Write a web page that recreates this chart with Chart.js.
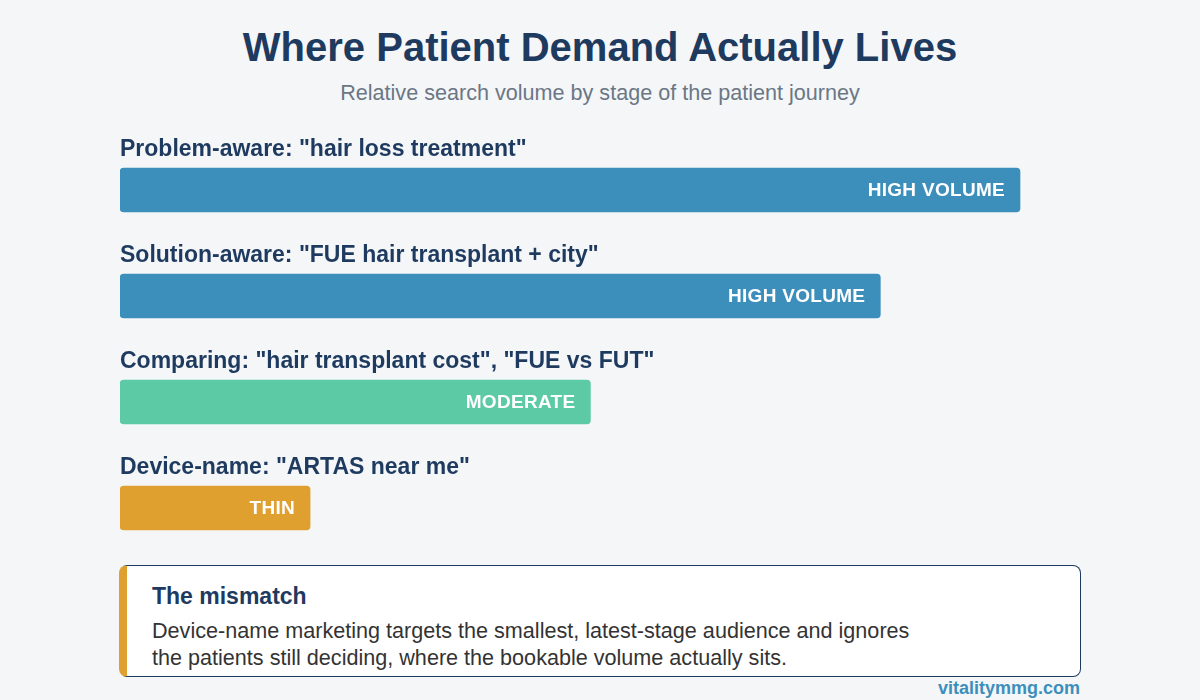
<!DOCTYPE html>
<html>
<head>
<meta charset="utf-8">
<script src="https://cdn.jsdelivr.net/npm/chart.js@4"></script>
<style>
  body { margin: 0; background: #f4f6f8; font-family: "Liberation Sans", Arial, sans-serif; }
  #wrap { position: relative; width: 1200px; height: 700px; }
  h1 { position: absolute; top: 25px; left: 0; width: 1200px; margin: 0; text-align: center; font-size: 40px; color: #1e3a5f; }
  .sub { position: absolute; top: 80px; left: 0; width: 1200px; text-align: center; font-size: 21.6px; color: #6b7785; }
  #chartBox { position: absolute; left: 0; top: 130px; width: 1200px; height: 431px; }
  .note { position: absolute; left: 119px; top: 565px; background: #fff;
          border: 1.5px solid #1e3a5f; border-left: 8px solid #e0a030; border-radius: 8px; box-sizing: border-box; width: 962px; height: 112px; }
  .note h3 { margin: 0; position: absolute; left: 25px; top: 17px; font-size: 23px; color: #1e3a5f; }
  .note p { margin: 0; position: absolute; left: 25px; top: 51px; font-size: 21.6px; line-height: 27px; color: #333; }
  .src { position: absolute; right: 120px; top: 678px; font-size: 18px; font-weight: bold; color: #3d8fbb; }
</style>
</head>
<body>
<div id="wrap">
  <h1>Where Patient Demand Actually Lives</h1>
  <div class="sub">Relative search volume by stage of the patient journey</div>
  <div id="chartBox"><canvas id="c"></canvas></div>
  <div class="note">
    <h3>The mismatch</h3>
    <p>Device-name marketing targets the smallest, latest-stage audience and ignores<br>the patients still deciding, where the bookable volume actually sits.</p>
  </div>
  <div class="src">vitalitymmg.com</div>
</div>
<script>
const stages = ['Problem-aware: "hair loss treatment"', 'Solution-aware: "FUE hair transplant + city"',
  'Comparing: "hair transplant cost", "FUE vs FUT"', 'Device-name: "ARTAS near me"'];
const volumes = [93.75, 79.2, 49, 19.8];
const volumeLabels = ["HIGH VOLUME", "HIGH VOLUME", "MODERATE", "THIN"];
const barColors = ["#3d8fbb", "#3d8fbb", "#5ccaa5", "#e0a030"];

// draws stage label above each bar and the volume tag inside it
const barText = {
  id: "barText",
  afterDatasetsDraw(chart) {
    const ctx = chart.ctx;
    const meta = chart.getDatasetMeta(0);
    meta.data.forEach((bar, i) => {
      ctx.save();
      ctx.font = "bold 23px 'Liberation Sans', Arial";
      ctx.fillStyle = "#1e3a5f";
      ctx.textAlign = "left";
      ctx.textBaseline = "alphabetic";
      ctx.fillText(stages[i], chart.chartArea.left, bar.y - 34);
      ctx.font = "bold 19px 'Liberation Sans', Arial";
      ctx.letterSpacing = "0.3px";
      ctx.fillStyle = "#fff";
      ctx.textAlign = "right";
      ctx.textBaseline = "middle";
      ctx.fillText(volumeLabels[i], bar.x - 15, bar.y + 1);
      ctx.restore();
    });
  }
};

new Chart(document.getElementById("c"), {
  type: "bar",
  data: {
    labels: stages,
    datasets: [{ data: volumes, backgroundColor: barColors, barThickness: 44, borderRadius: 4, borderSkipped: false }]
  },
  options: {
    indexAxis: "y",
    responsive: true,
    maintainAspectRatio: false,
    animation: false,
    layout: { padding: { left: 120, right: 120, top: 7, bottom: 0 } },
    plugins: { legend: { display: false }, tooltip: { enabled: false } },
    scales: {
      x: { display: false, min: 0, max: 100 },
      y: { display: false }
    }
  },
  plugins: [barText]
});
</script>
</body>
</html>
